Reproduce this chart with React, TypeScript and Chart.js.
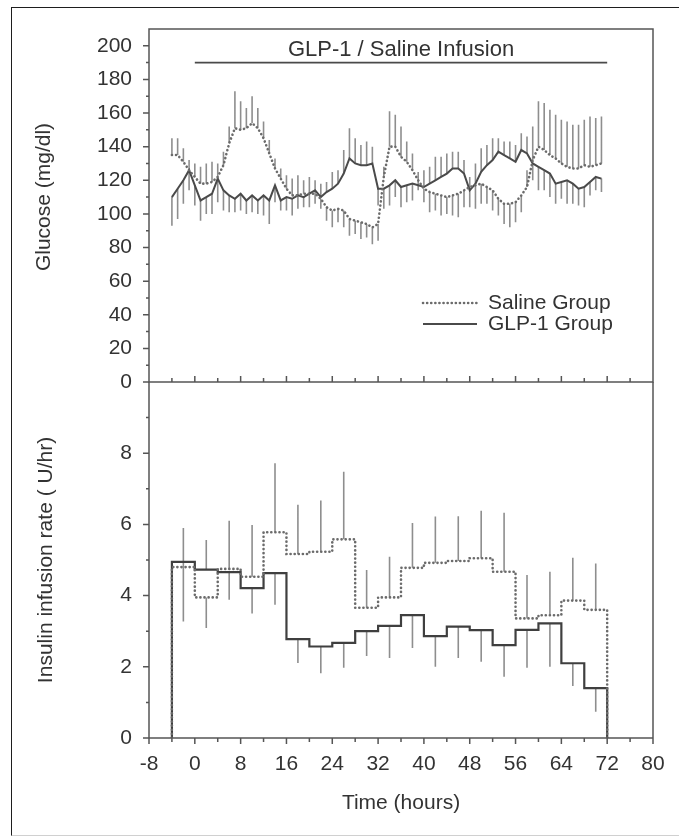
import React, { useEffect, useRef } from 'react';
import { Chart, registerables } from 'chart.js';

Chart.register(...registerables);

const FONT = '"Liberation Sans", Arial, Helvetica, sans-serif';
const TEXT = '#333333';
const AXIS = '#555555';
const ERR = '#8e8e8e';

// ---------- Glucose panel (hourly) ----------
const hours = [
  -4, -3, -2, -1, 0, 1, 2, 3, 4, 5,
  6, 7, 8, 9, 10, 11, 12, 13, 14, 15,
  16, 17, 18, 19, 20, 21, 22, 23, 24, 25,
  26, 27, 28, 29, 30, 31, 32, 33, 34, 35,
  36, 37, 38, 39, 40, 41, 42, 43, 44, 45,
  46, 47, 48, 49, 50, 51, 52, 53, 54, 55,
  56, 57, 58, 59, 60, 61, 62, 63, 64, 65,
  66, 67, 68, 69, 70, 71,
];

const glpGlucose = [
  110, 115, 120, 126, 117, 108, 110, 112, 121, 114,
  111, 109, 112, 108, 111, 108, 111, 108, 117, 108,
  110, 109, 111, 110, 112, 114, 110, 113, 115, 118,
  124, 133, 130, 129, 129, 130, 115, 115, 117, 120,
  116, 117, 118, 117, 116, 118, 120, 122, 124, 127,
  127, 124, 114, 118, 125, 129, 132, 137, 135, 133,
  131, 138, 136, 130, 128, 126, 124, 118, 119, 120,
  118, 115, 116, 119, 122, 121,
];

const glpGlucoseErr = [
  -17, -18, -14, -12, -12, -12, -10, -12, -14, -12,
  -10, -8, -10, -8, -10, -8, -12, -14, -10, -6,
  -8, -10, -8, -6, -8, -8, 8, 6, 10, 8,
  14, 18, 15, 12, 14, 10, -10, -12, -12, -10,
  -12, -10, -10, 8, 10, 10, 14, 12, 12, 10,
  10, 8, 8, 12, 14, 12, 13, 8, 8, 10,
  10, 10, 10, -10, -14, -12, -14, -12, -10, -14,
  -12, -10, -12, -8, -8, -8,
];

const salineGlucose = [
  135, 135, 131, 126, 122, 118, 118, 119, 122, 129,
  142, 151, 150, 151, 154, 151, 145, 136, 127, 121,
  115, 111, 111, 112, 112, 112, 109, 104, 102, 103,
  102, 97, 96, 95, 94, 92, 94, 122, 140, 140,
  134, 131, 126, 120, 115, 113, 112, 111, 110, 111,
  112, 114, 116, 117, 118, 116, 114, 109, 106, 106,
  107, 111, 116, 132, 140, 138, 135, 133, 130, 128,
  127, 127, 129, 128, 129, 130,
];

const salineGlucoseErr = [
  10, 10, 8, 6, 8, 10, 12, 12, 8, 8,
  10, 22, 17, 12, 16, 12, 10, 8, 6, 6,
  8, 10, 12, 8, 10, 8, -6, -8, -10, -8,
  -10, -10, -8, -10, -8, -10, -10, 6, 21, 19,
  18, 12, 10, -6, -8, -12, -10, -12, -10, -12,
  -14, -10, -12, -14, -12, -10, -12, -10, -12, -14,
  -12, -10, 10, 20, 27, 28, 27, 26, 26, 27,
  26, 26, 27, 30, 28, 28,
];

const glucoseTicks = [0, 20, 40, 60, 80, 100, 120, 140, 160, 180, 200];

// ---------- Insulin panel (4-hour bins) ----------
const binStarts = [-4, 0, 4, 8, 12, 16, 20, 24, 28, 32, 36, 40, 44, 48, 52, 56, 60, 64, 68];
const binEnd = 72;
const salineInsulin = [4.8, 3.95, 4.75, 4.53, 5.78, 5.17, 5.23, 5.58, 3.66, 3.95, 4.78, 4.92, 4.97, 5.05, 4.67, 3.36, 3.45, 3.86, 3.6];
const salineInsulinErr = [1.1, -0.86, 1.35, 1.45, 1.94, 1.38, 1.44, 1.9, 1.06, 1.14, 1.26, 1.3, 1.26, 1.33, 1.66, 1.22, 1.22, 1.2, 1.3];
const glpInsulin = [4.95, 4.73, 4.66, 4.21, 4.63, 2.78, 2.57, 2.67, 3.0, 3.15, 3.45, 2.86, 3.13, 3.03, 2.61, 3.04, 3.22, 2.1, 1.4];
const glpInsulinErr = [-1.68, 0.83, -0.78, -0.71, -0.89, -0.67, -0.75, -0.7, -0.7, -0.9, -0.92, -0.86, -0.88, -0.89, -0.89, -1.07, -1.22, -0.64, -0.66];
const insulinTicks = [0, 2, 4, 6, 8];

const timeTicks = [-8, 0, 8, 16, 24, 32, 40, 48, 56, 64, 72, 80];
const X_MIN = -8;
const X_MAX = 80;

const TITLE = 'GLP-1 / Saline Infusion';
const TITLE_START = 0;
const TITLE_END = 72;
const TITLE_LEVEL = 190;

function line(ctx: CanvasRenderingContext2D, x1: number, y1: number, x2: number, y2: number) {
  ctx.moveTo(x1, y1);
  ctx.lineTo(x2, y2);
}

const topDecor = {
  id: 'topDecor',
  beforeDatasetsDraw(chart: any) {
    const { ctx, scales } = chart;
    const x = scales.x;
    const y = scales.y;
    ctx.save();
    ctx.strokeStyle = ERR;
    ctx.lineWidth = 1.6;
    ctx.beginPath();
    hours.forEach((h, i) => {
      const px = x.getPixelForValue(h);
      line(ctx, px, y.getPixelForValue(salineGlucose[i]), px, y.getPixelForValue(salineGlucose[i] + salineGlucoseErr[i]));
      line(ctx, px, y.getPixelForValue(glpGlucose[i]), px, y.getPixelForValue(glpGlucose[i] + glpGlucoseErr[i]));
    });
    ctx.stroke();
    ctx.restore();
  },
  afterDraw(chart: any) {
    const { ctx, chartArea: a, scales } = chart;
    const x = scales.x;
    const y = scales.y;
    ctx.save();
    // frame
    ctx.strokeStyle = AXIS;
    ctx.lineWidth = 1.5;
    ctx.beginPath();
    ctx.rect(a.left, a.top, a.right - a.left, a.bottom - a.top);
    ctx.stroke();
    // left ticks
    ctx.beginPath();
    for (let v = 0; v <= 200; v += 10) {
      const py = y.getPixelForValue(v);
      const len = v % 20 === 0 ? 6 : 3;
      line(ctx, a.left - len, py, a.left, py);
    }
    // bottom ticks (pointing up)
    for (let h = X_MIN + 4; h < X_MAX; h += 4) {
      const px = x.getPixelForValue(h);
      const len = h % 8 === 0 ? 6 : 4;
      line(ctx, px, a.bottom, px, a.bottom - len);
    }
    ctx.stroke();
    // title line + title
    ctx.strokeStyle = '#4a4a4a';
    ctx.lineWidth = 1.6;
    ctx.beginPath();
    const ly = y.getPixelForValue(TITLE_LEVEL);
    line(ctx, x.getPixelForValue(TITLE_START), ly, x.getPixelForValue(TITLE_END), ly);
    ctx.stroke();
    ctx.fillStyle = TEXT;
    ctx.font = `22px ${FONT}`;
    ctx.textAlign = 'center';
    ctx.textBaseline = 'middle';
    ctx.fillText(TITLE, x.getPixelForValue((TITLE_START + TITLE_END) / 2), 50);
    // y title
    ctx.save();
    ctx.translate(44, 197);
    ctx.rotate(-Math.PI / 2);
    ctx.font = `21px ${FONT}`;
    ctx.fillText('Glucose (mg/dl)', 0, 0);
    ctx.restore();
    // legend
    const lx1 = 423, lx2 = 477;
    ctx.lineWidth = 2.6;
    ctx.strokeStyle = '#6b6b6b';
    ctx.lineCap = 'round';
    ctx.setLineDash([0.1, 4]);
    ctx.beginPath();
    line(ctx, lx1, 303, lx2, 303);
    ctx.stroke();
    ctx.setLineDash([]);
    ctx.lineCap = 'butt';
    ctx.lineWidth = 2;
    ctx.strokeStyle = '#4a4a4a';
    ctx.beginPath();
    line(ctx, lx1, 324, lx2, 324);
    ctx.stroke();
    ctx.font = `21px ${FONT}`;
    ctx.textAlign = 'left';
    ctx.fillStyle = TEXT;
    ctx.fillText('Saline Group', 488, 303);
    ctx.fillText('GLP-1 Group', 488, 324);
    ctx.restore();
  },
};

const bottomDecor = {
  id: 'bottomDecor',
  beforeDatasetsDraw(chart: any) {
    const { ctx, scales } = chart;
    const x = scales.x;
    const y = scales.y;
    ctx.save();
    ctx.strokeStyle = ERR;
    ctx.lineWidth = 1.6;
    ctx.beginPath();
    binStarts.forEach((b, i) => {
      const px = x.getPixelForValue(b + 2);
      line(ctx, px, y.getPixelForValue(salineInsulin[i]), px, y.getPixelForValue(salineInsulin[i] + salineInsulinErr[i]));
      line(ctx, px, y.getPixelForValue(glpInsulin[i]), px, y.getPixelForValue(glpInsulin[i] + glpInsulinErr[i]));
    });
    ctx.stroke();
    ctx.restore();
  },
  afterDraw(chart: any) {
    const { ctx, chartArea: a, scales } = chart;
    const x = scales.x;
    const y = scales.y;
    ctx.save();
    ctx.strokeStyle = AXIS;
    ctx.lineWidth = 1.5;
    ctx.beginPath();
    line(ctx, a.left, a.top, a.left, a.bottom);
    line(ctx, a.left, a.bottom, a.right, a.bottom);
    line(ctx, a.right, a.top, a.right, a.bottom);
    for (let v = 0; v <= 9; v += 1) {
      const py = y.getPixelForValue(v);
      const len = v % 2 === 0 ? 6 : 3;
      line(ctx, a.left - len, py, a.left, py);
    }
    for (let h = X_MIN; h <= X_MAX; h += 4) {
      const px = x.getPixelForValue(h);
      const len = h % 8 === 0 ? 6 : 4;
      line(ctx, px, a.bottom, px, a.bottom + len);
    }
    ctx.stroke();
    ctx.fillStyle = TEXT;
    ctx.font = `21px ${FONT}`;
    ctx.textAlign = 'center';
    ctx.textBaseline = 'middle';
    ctx.fillText('Time (hours)', x.getPixelForValue(36), a.bottom + 65);
    ctx.save();
    ctx.translate(46, (a.top + a.bottom) / 2);
    ctx.rotate(-Math.PI / 2);
    ctx.fillText('Insulin infusion rate ( U/hr)', 0, 0);
    ctx.restore();
    ctx.restore();
  },
};

function stepPoints(values: number[]) {
  const pts = [{ x: binStarts[0], y: 0 }];
  binStarts.forEach((b, i) => pts.push({ x: b, y: values[i] }));
  pts.push({ x: binEnd, y: values[values.length - 1] });
  pts.push({ x: binEnd, y: 0 });
  return pts;
}

const tickFont = { family: FONT, size: 21 };

function TopChart() {
  const ref = useRef<HTMLCanvasElement>(null);
  useEffect(() => {
    const chart = new Chart(ref.current as HTMLCanvasElement, {
      type: 'line',
      data: {
        datasets: [
          {
            label: 'Saline Group',
            data: hours.map((h, i) => ({ x: h, y: salineGlucose[i] })),
            borderColor: '#6b6b6b',
            borderWidth: 2.6,
            borderDash: [0.1, 4],
            borderCapStyle: 'round',
            pointRadius: 0,
            tension: 0,
            fill: false,
          },
          {
            label: 'GLP-1 Group',
            data: hours.map((h, i) => ({ x: h, y: glpGlucose[i] })),
            borderColor: '#4a4a4a',
            borderWidth: 2,
            pointRadius: 0,
            tension: 0,
            fill: false,
          },
        ],
      },
      options: {
        animation: false,
        responsive: false,
        layout: { padding: { top: 29, right: 26, bottom: 28, left: 0 } },
        plugins: { legend: { display: false }, tooltip: { enabled: false }, title: { display: false } },
        scales: {
          x: { type: 'linear', min: X_MIN, max: X_MAX, display: false },
          y: {
            type: 'linear',
            min: 0,
            max: 210,
            afterBuildTicks: (s: any) => { s.ticks = glucoseTicks.map((v) => ({ value: v })); },
            afterFit: (s: any) => { s.width = 149; },
            grid: { display: false, drawTicks: true, tickLength: 17 },
            border: { display: false },
            ticks: { padding: 0, color: TEXT, font: tickFont, autoSkip: false },
          },
        },
      } as any,
      plugins: [topDecor],
    });
    return () => chart.destroy();
  }, []);
  return (
    <canvas
      ref={ref}
      width={679}
      height={410}
      style={{ position: 'absolute', left: 0, top: 0, width: 679, height: 410 }}
    />
  );
}

function BottomChart() {
  const ref = useRef<HTMLCanvasElement>(null);
  useEffect(() => {
    const chart = new Chart(ref.current as HTMLCanvasElement, {
      type: 'line',
      data: {
        datasets: [
          {
            label: 'Saline Group',
            data: stepPoints(salineInsulin),
            stepped: true,
            borderColor: '#6b6b6b',
            borderWidth: 2.6,
            borderDash: [0.1, 4],
            borderCapStyle: 'round',
            pointRadius: 0,
            fill: false,
          },
          {
            label: 'GLP-1 Group',
            data: stepPoints(glpInsulin),
            stepped: true,
            borderColor: '#3f3f3f',
            borderWidth: 2.2,
            pointRadius: 0,
            fill: false,
          },
        ],
      },
      options: {
        animation: false,
        responsive: false,
        layout: { padding: { top: 22, right: 26, bottom: 0, left: 0 } },
        plugins: { legend: { display: false }, tooltip: { enabled: false }, title: { display: false } },
        scales: {
          x: {
            type: 'linear',
            min: X_MIN,
            max: X_MAX,
            afterBuildTicks: (s: any) => { s.ticks = timeTicks.map((v) => ({ value: v })); },
            afterFit: (s: any) => { s.height = 88; },
            grid: { display: false, drawTicks: true, tickLength: 14 },
            border: { display: false },
            ticks: { padding: 0, color: TEXT, font: tickFont, autoSkip: false, maxRotation: 0 },
          },
          y: {
            type: 'linear',
            min: 0,
            max: 10,
            afterBuildTicks: (s: any) => { s.ticks = insulinTicks.map((v) => ({ value: v })); },
            afterFit: (s: any) => { s.width = 149; },
            grid: { display: false, drawTicks: true, tickLength: 17 },
            border: { display: false },
            ticks: { padding: 0, color: TEXT, font: tickFont, autoSkip: false },
          },
        },
      } as any,
      plugins: [bottomDecor],
    });
    return () => chart.destroy();
  }, []);
  return (
    <canvas
      ref={ref}
      width={679}
      height={466}
      style={{ position: 'absolute', left: 0, top: 360, width: 679, height: 466 }}
    />
  );
}

export default function App() {
  return (
    <div style={{ position: 'absolute', left: 0, top: 0, width: 679, height: 836, background: '#ffffff', overflow: 'hidden' }}>
      <div
        style={{
          position: 'absolute',
          left: 11,
          top: 7,
          width: 668,
          height: 829,
          boxSizing: 'border-box',
          borderLeft: '1px solid #1e1e1e',
          borderTop: '1px solid #1e1e1e',
          borderBottom: '1px solid #d0d0d0',
        }}
      />
      <BottomChart />
      <TopChart />
    </div>
  );
}
